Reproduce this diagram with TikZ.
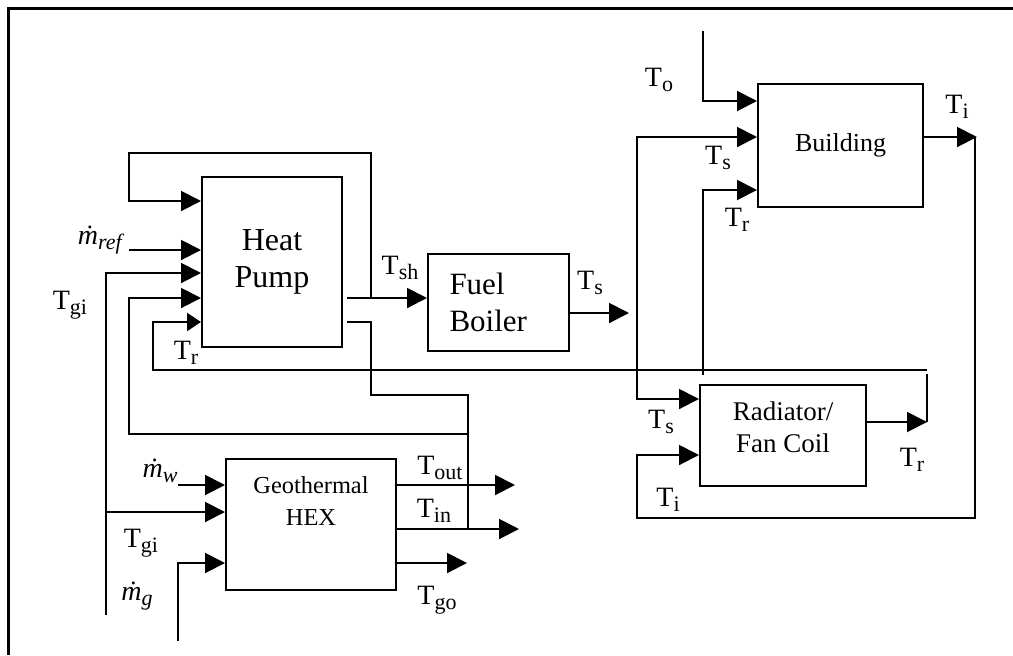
\documentclass[tikz,border=0pt]{standalone}
\usepackage{fontspec}
\setmainfont{Liberation Serif}
\usetikzlibrary{arrows.meta, positioning, calc}
\newcommand\tsub[2]{#1\raisebox{-2.5pt}{\fontsize{11}{12}\selectfont #2}}

\begin{document}
\begin{tikzpicture}[
  x=0.5pt, y=-0.5pt, line width=1pt,
  blk/.style={draw, inner sep=0pt, align=center},
  lbl/.style={font=\fontsize{14}{16}\selectfont, inner sep=0pt},
  arr/.style={-{Triangle[length=10pt, width=10pt]}},
  sarr/.style={-{Triangle[length=7pt, width=9pt]}},
]
  \useasboundingbox (0,0) rectangle (1013,655);
  \draw[line width=1.5pt] (8,655) -- (8,8) -- (1013,8);

  % blocks
  \node[blk, minimum width=70pt, minimum height=85pt, font=\fontsize{16}{18.5}\selectfont] (hp) at (272,262) {Heat\\Pump};
  \node[blk, minimum width=70.5pt, minimum height=48.5pt, text width=49pt, align=left, font=\fontsize{15.5}{18.5}\selectfont] (fb) at (498.5,302.5) {Fuel\\Boiler};
  \node[blk, minimum width=82.5pt, minimum height=61.5pt, font=\fontsize{13}{15}\selectfont] (bld) at (840.5,145.5) {Building};
  \node[blk, minimum width=83pt, minimum height=50.5pt] (rad) at (783,435.5) {};
  \node[font=\fontsize{13.5}{16}\selectfont, align=center, inner sep=0pt] (radtxt) at (783,427) {Radiator/\\Fan Coil};
  \node[blk, minimum width=85pt, minimum height=65.5pt] (hex) at (311,524.5) {};
  \node[font=\fontsize{12.2}{16}\selectfont, align=center, inner sep=0pt, below=9pt of hex.north] (hextxt) {Geothermal\\HEX};

  % free ends
  \coordinate (mref) at (129,250);
  \coordinate (tgi) at (106,615);
  \coordinate (mw) at (178,485);
  \coordinate (mg) at (178,641);
  \coordinate (hpo1) at (347,298);
  \coordinate (hpo2) at (347,322);
  \coordinate (tout) at (515,485);
  \coordinate (tin) at (519,529);
  \coordinate (tgo) at (467,563);
  \coordinate (ts) at (629,313);
  \coordinate (to) at (703,31);
  \coordinate (tr) at (703,375);
  \coordinate (ti) at (977,137);
  \coordinate (trr) at (927,422);

  % heat pump
  \draw[arr] (hpo1) -- (fb.west |- hpo1);
  \draw[arr] (371,298) |- (129,153) |- (hp.west |- 0,201);
  \draw[arr] (mref) -- (hp.west |- mref);
  \draw[arr] (tgi) |- (hp.west |- 0,273);
  \draw[arr] (468,434) -| (129,298) -- (hp.west |- 0,298);
  \draw[sarr] (927,370) -| (153,322) -- (hp.west |- 0,322);
  \draw (hpo2) -- (371,322) |- (468,395) -- (468,528);

  % geothermal hex
  \draw[arr] (hex.east |- tout) -- (tout);
  \draw[arr] (hex.east |- tin) -- (tin);
  \draw[arr] (hex.east |- tgo) -- (tgo);
  \draw[arr] (mw) -- (hex.west |- mw);
  \draw[arr] (106,512) -- (hex.west |- 0,512);
  \draw[arr] (mg) |- (hex.west |- tgo);

  % boiler, building, radiator
  \draw[arr] (fb.east |- ts) -- (ts);
  \draw[{Triangle[length=10pt, width=10pt]}-{Triangle[length=10pt, width=10pt]}] (rad.west |- 0,399) -| (637,137) -- (bld.west |- 0,137);
  \draw[arr] (to) |- (bld.west |- 0,101);
  \draw[arr] (tr) |- (bld.west |- 0,190);
  \draw[arr] (bld.east |- ti) -- (ti);
  \draw[arr] (975,137) -- (975,518) -| (637,455) -- (rad.west |- 0,455);
  \draw[arr] (rad.east |- trr) -- (trr);
  \draw (trr) -- (927,374);

  % labels
  \node[lbl] (l-mref) at (101,240) {\tsub{\textit{\.{m}}}{\textit{ref}}};
  \node[lbl] (l-tgi1) at (70,305) {\tsub{T}{gi}};
  \node[lbl] (l-tr1) at (186,353) {\tsub{T}{r}};
  \node[lbl] (l-tsh) at (400,268) {\tsub{T}{sh}};
  \node[lbl] (l-ts1) at (590,283) {\tsub{T}{s}};
  \node[lbl] (l-to) at (659,80) {\tsub{T}{o}};
  \node[lbl] (l-ts2) at (718,158) {\tsub{T}{s}};
  \node[lbl] (l-tr2) at (737,220) {\tsub{T}{r}};
  \node[lbl] (l-ti1) at (957,107) {\tsub{T}{i}};
  \node[lbl] (l-ts3) at (661,422) {\tsub{T}{s}};
  \node[lbl] (l-ti2) at (668,500) {\tsub{T}{i}};
  \node[lbl] (l-tr3) at (912,460) {\tsub{T}{r}};
  \node[lbl] (l-mw) at (160,471) {\tsub{\textit{\.{m}}}{\textit{w}}};
  \node[lbl] (l-tgi2) at (141,543) {\tsub{T}{gi}};
  \node[lbl] (l-mg) at (137,596) {\tsub{\textit{\.{m}}}{\textit{g}}};
  \node[lbl] (l-tout) at (440,468) {\tsub{T}{out}};
  \node[lbl] (l-tin) at (434,511) {\tsub{T}{in}};
  \node[lbl] (l-tgo) at (437,600) {\tsub{T}{go}};
\end{tikzpicture}
\end{document}
